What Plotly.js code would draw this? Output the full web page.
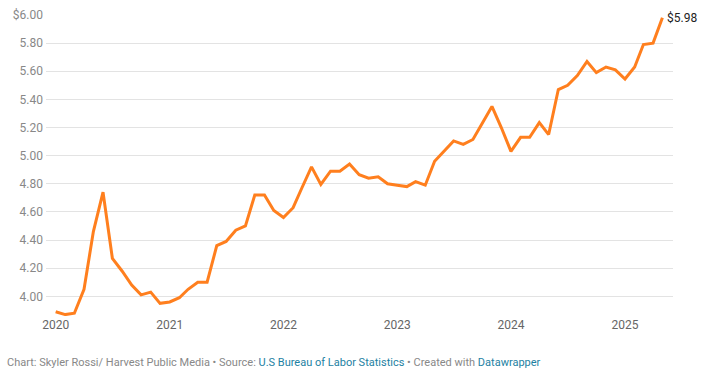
<!DOCTYPE html>
<html>
<head>
<meta charset="utf-8">
<script src="https://cdn.plot.ly/plotly-3.0.1.min.js"></script>
<style>
html,body{margin:0;padding:0;background:#fff;}
#chart{width:713px;height:375px;}
</style>
</head>
<body>
<div id="chart"></div>
<script>
// Monthly series, Jan 2020 – May 2025
const startYear = 2020;
const prices = [
  3.89, 3.87, 3.88, 4.05, 4.46, 4.74, 4.27, 4.18, 4.08, 4.01, 4.03, 3.95,
  3.96, 3.99, 4.05, 4.10, 4.10, 4.36, 4.39, 4.47, 4.50, 4.72, 4.72, 4.61,
  4.56, 4.63, 4.77, 4.92, 4.795, 4.89, 4.89, 4.94, 4.865, 4.84, 4.85, 4.80,
  4.79, 4.78, 4.815, 4.79, 4.96, 5.03, 5.105, 5.08, 5.115, 5.23, 5.35, 5.20,
  5.03, 5.13, 5.13, 5.235, 5.15, 5.47, 5.50, 5.57, 5.67, 5.59, 5.63, 5.61,
  5.545, 5.63, 5.79, 5.80, 5.98
];
const yTickVals = [4.0, 4.2, 4.4, 4.6, 4.8, 5.0, 5.2, 5.4, 5.6, 5.8, 6.0];
const yTickText = ["4.00","4.20","4.40","4.60","4.80","5.00","5.20","5.40","5.60","5.80","$6.00"];
const xTickYears = ["2020","2021","2022","2023","2024","2025"];
const lastLabel = "$5.98";

const dates = prices.map((_, i) => {
  const y = startYear + Math.floor(i / 12);
  const m = (i % 12) + 1;
  return y + "-" + String(m).padStart(2, "0") + "-01";
});

const trace = {
  x: dates,
  y: prices,
  type: "scatter",
  mode: "lines",
  line: {color: "#ff7f1e", width: 3},
  hoverinfo: "skip"
};

const grey = "#888888";
const blue = "#1d81a2";

const layout = {
  width: 713, height: 375,
  margin: {l: 46, r: 40, t: 15, b: 59},
  paper_bgcolor: "#fff", plot_bgcolor: "#fff",
  showlegend: false,
  font: {family: "Roboto, sans-serif", size: 12, color: grey},
  xaxis: {
    type: "date",
    range: ["2019-12-01", "2025-06-04"],
    tickvals: xTickYears.map(y => y + "-01-01"),
    ticktext: xTickYears,
    showgrid: false, zeroline: false, showline: false,
    ticks: "",
    tickfont: {family: "Roboto, sans-serif", size: 12, color: "#666"}
  },
  yaxis: {
    range: [3.86, 6.0],
    tickvals: yTickVals,
    ticktext: yTickText,
    showgrid: true, gridcolor: "#e3e3e3", gridwidth: 1,
    zeroline: false, showline: false, ticks: "",
    ticklabelstandoff: 2,
    tickfont: {family: "Roboto, sans-serif", size: 12, color: grey}
  },
  annotations: [
    {
      x: dates[dates.length - 1], y: prices[prices.length - 1],
      xref: "x", yref: "y",
      text: lastLabel, showarrow: false,
      xanchor: "left", yanchor: "middle", xshift: 3,
      font: {family: "Roboto, sans-serif", size: 12, color: "#222"}
    },
    {
      x: 0, y: 0, xref: "paper", yref: "paper",
      xanchor: "left", yanchor: "middle",
      xshift: -41, yshift: -46,
      showarrow: false,
      text: "Chart: Skyler Rossi/ Harvest Public Media • Source: <span style='color:" + blue + "'>U.S Bureau of Labor Statistics</span> • Created with <span style='color:" + blue + "'>Datawrapper</span>",
      font: {family: "Roboto, sans-serif", size: 11, color: grey}
    }
  ]
};

Plotly.newPlot("chart", [trace], layout, {displayModeBar: false, staticPlot: true});
</script>
</body>
</html>
